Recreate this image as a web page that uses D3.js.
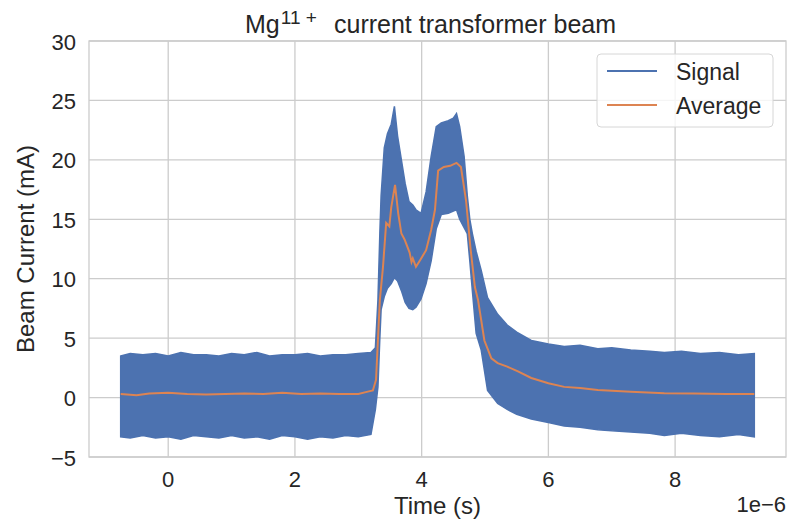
<!DOCTYPE html>
<html>
<head>
<meta charset="utf-8">
<script src="https://cdn.jsdelivr.net/npm/d3@7"></script>
<style>
  body { margin: 0; background: #fff; }
  text { font-family: "Liberation Sans", Arial, sans-serif; fill: #262626; }
</style>
</head>
<body>
<div id="chart"></div>
<script>
// time in microseconds (axis carries the 1e-6 offset label)
const sigTime = [-0.75,-0.6,-0.4,-0.2,0.0,0.2,0.4,0.6,0.8,1.0,1.2,1.4,1.6,1.8,2.0,2.2,2.4,2.6,2.8,3.0,3.2,
  3.27,3.31,3.34,3.36,3.41,3.46,3.52,3.57,3.62,3.68,3.74,3.80,3.86,3.91,3.99,4.07,4.15,4.23,4.31,4.42,4.50,4.55,
  4.60,4.67,4.72,4.76,4.80,4.86,4.94,5.04,5.2,5.35,5.5,5.73,6.0,6.25,6.5,6.78,7.0,7.3,7.6,7.83,8.1,8.4,8.7,9.0,9.25];
const sigHigh = [3.5,3.7,3.6,3.7,3.5,3.8,3.6,3.6,3.5,3.7,3.6,3.8,3.5,3.6,3.6,3.7,3.5,3.6,3.6,3.7,3.8,
  4.2,8.2,13.8,17,21,22.2,23,24.5,22,20,18,16.5,16.2,15.8,15.5,17.3,20.3,22.8,23.1,23.3,23.5,23.9,
  22.8,20.3,17,15,13.8,12.3,10.7,8.4,7.0,6.1,5.5,4.8,4.5,4.3,4.4,4.1,4.2,4.0,3.9,3.8,3.9,3.7,3.8,3.6,3.7];
const sigLow = [-3.3,-3.4,-3.2,-3.4,-3.3,-3.5,-3.2,-3.3,-3.4,-3.2,-3.4,-3.3,-3.5,-3.2,-3.3,-3.5,-3.3,-3.4,-3.2,-3.3,-3.1,
  -1.0,0.9,5.0,7.4,8.5,9.2,9.6,10.1,9.8,9.0,8.0,7.5,7.4,7.6,8.3,9.6,11.5,14.2,15.4,15.5,15.7,15.8,
  15.0,14.3,13.8,11.5,9.0,5.4,4.0,0.6,-0.5,-1.0,-1.4,-1.8,-2.1,-2.4,-2.5,-2.7,-2.8,-2.9,-3.0,-3.2,-3.0,-3.2,-3.3,-3.1,-3.3];

const avgTime = [-0.75,-0.5,-0.3,0,0.3,0.6,0.9,1.2,1.5,1.8,2.1,2.4,2.7,3.0,3.15,3.23,3.28,3.34,3.39,3.44,3.49,3.52,3.58,
  3.63,3.68,3.73,3.81,3.84,3.86,3.91,3.98,4.07,4.15,4.21,4.26,4.35,4.45,4.55,4.62,4.70,4.77,4.84,4.89,4.99,
  5.1,5.2,5.35,5.52,5.73,6.0,6.25,6.5,6.78,7.3,7.83,8.3,8.8,9.25];
const avgValue = [0.3,0.2,0.35,0.4,0.3,0.25,0.3,0.35,0.3,0.4,0.3,0.35,0.3,0.3,0.5,0.6,1.5,8.2,11,14.7,14.4,16,17.9,
  15.5,13.8,13.3,12.2,11.4,11.7,11.0,11.6,12.4,14.1,15.8,19.1,19.4,19.5,19.75,19.4,16.6,12.6,9.3,8.2,4.8,
  3.3,2.9,2.6,2.2,1.65,1.2,0.9,0.8,0.64,0.5,0.36,0.35,0.3,0.3];

const xTicks = [0, 2, 4, 6, 8];
const yTicks = [-5, 0, 5, 10, 15, 20, 25, 30];
const seriesNames = ["Signal", "Average"];
const seriesColors = ["#4c72b0", "#dd8452"];

const W = 793, H = 524;
const M = { top: 41, right: 7, bottom: 67, left: 89 };
const iw = W - M.left - M.right, ih = H - M.top - M.bottom;

const svg = d3.select("#chart").append("svg").attr("width", W).attr("height", H);
const g = svg.append("g").attr("transform", `translate(${M.left},${M.top})`);

const x = d3.scaleLinear().domain([-1.25, 9.75]).range([0, iw]);
const y = d3.scaleLinear().domain([-5, 30]).range([ih, 0]);

// grid
g.selectAll("line.gx").data(xTicks).join("line").attr("class", "gx")
  .attr("x1", d => x(d)).attr("x2", d => x(d)).attr("y1", 0).attr("y2", ih)
  .attr("stroke", "#cccccc").attr("stroke-width", 1.3);
g.selectAll("line.gy").data(yTicks).join("line").attr("class", "gy")
  .attr("y1", d => y(d)).attr("y2", d => y(d)).attr("x1", 0).attr("x2", iw)
  .attr("stroke", "#cccccc").attr("stroke-width", 1.3);

// signal band
const sig = sigTime.map((t, i) => ({ t, hi: sigHigh[i], lo: sigLow[i] }));
g.append("path").datum(sig)
  .attr("fill", seriesColors[0]).attr("stroke", seriesColors[0]).attr("stroke-width", 1.5)
  .attr("d", d3.area().x(d => x(d.t)).y0(d => y(d.lo)).y1(d => y(d.hi)));

// average line
const avg = avgTime.map((t, i) => ({ t, v: avgValue[i] }));
g.append("path").datum(avg)
  .attr("fill", "none").attr("stroke", seriesColors[1]).attr("stroke-width", 2)
  .attr("d", d3.line().x(d => x(d.t)).y(d => y(d.v)));

// frame
g.append("rect").attr("width", iw).attr("height", ih)
  .attr("fill", "none").attr("stroke", "#cccccc").attr("stroke-width", 1.3);

// tick labels
const fmt = d => String(d).replace("-", "\u2212");
g.selectAll("text.xt").data(xTicks).join("text").attr("class", "xt")
  .attr("x", d => x(d)).attr("y", ih + 30).attr("text-anchor", "middle")
  .style("font-size", "22px").text(fmt);
g.selectAll("text.yt").data(yTicks).join("text").attr("class", "yt")
  .attr("x", -13).attr("y", d => y(d) + 8.5).attr("text-anchor", "end")
  .style("font-size", "22px").text(fmt);

// offset label
g.append("text").attr("x", iw).attr("y", ih + 55).attr("text-anchor", "end")
  .style("font-size", "22px").text("1e\u22126");

// axis labels
g.append("text").attr("x", iw / 2).attr("y", ih + 56.5).attr("text-anchor", "middle")
  .style("font-size", "24px").text("Time (s)");
g.append("text").attr("transform", `translate(${34 - M.left},${ih / 2}) rotate(-90)`)
  .attr("text-anchor", "middle").style("font-size", "24px").text("Beam Current (mA)");

// title
const title = g.append("text").attr("y", -8).style("font-size", "25px");
title.append("tspan").attr("x", 245 - M.left).text("Mg");
title.append("tspan").attr("dy", -9).attr("dx", 1).style("font-size", "19px").text("11 +");
title.append("tspan").attr("dy", 9).attr("x", 334 - M.left).text("current transformer beam");

// legend
const lg = g.append("g").attr("transform", `translate(${597 - M.left},${54 - M.top})`);
lg.append("rect").attr("width", 176).attr("height", 73).attr("rx", 4)
  .attr("fill", "white").attr("fill-opacity", 0.8).attr("stroke", "#d6d6d6");
seriesNames.forEach((name, i) => {
  const yy = 17 + i * 34;
  lg.append("line").attr("x1", 10).attr("x2", 60).attr("y1", yy).attr("y2", yy)
    .attr("stroke", seriesColors[i]).attr("stroke-width", 2);
  lg.append("text").attr("x", 79).attr("y", yy + 8.5).style("font-size", "23px").text(name);
});
</script>
</body>
</html>
